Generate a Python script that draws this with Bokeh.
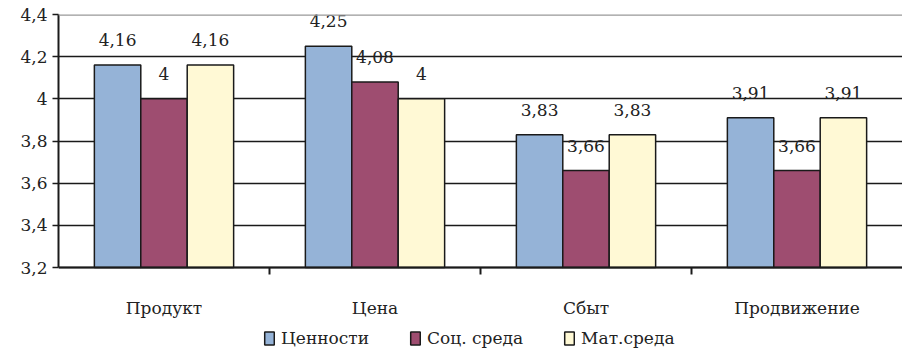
from bokeh.plotting import figure
from bokeh.models import ColumnDataSource, FixedTicker, Span, Legend, LegendItem
from bokeh.transform import dodge
from bokeh.core.properties import value
from bokeh.embed import file_html
from bokeh.resources import INLINE

# Marketing-mix scores by value source
categories = ["Продукт", "Цена", "Сбыт", "Продвижение"]
series_names = ["Ценности", "Соц. среда", "Мат.среда"]
values_cennosti = [4.16, 4.25, 3.83, 3.91]
values_soc = [4.0, 4.08, 3.66, 3.66]
values_mat = [4.16, 4.0, 3.83, 3.91]
y_ticks = [3.2, 3.4, 3.6, 3.8, 4.0, 4.2, 4.4]
y_tick_labels = ["3,2", "3,4", "3,6", "3,8", "4", "4,2", "4,4"]

colors = ["#95B3D7", "#9E4D70", "#FFF9D5"]
FONT = "DejaVu Serif"
FS = "17px"
INK = "#1a1a1a"

W, H = 902, 349
TOP, LEFT = 14, 58
AXIS_PX = 253          # pixel height of the value scale (3.2 .. 4.4)
y_lo, y_hi = y_ticks[0], y_ticks[-1]
px_unit = (y_hi - y_lo) / AXIS_PX
# the frame runs to the bottom edge so category labels and legend live inside it
y_bottom = y_hi - (H - TOP) * px_unit


def fmt(v):
    return f"{v:g}".replace(".", ",")


n = len(categories)
x_idx = [i + 0.5 for i in range(n)]
src = ColumnDataSource(dict(
    x=x_idx, cat=categories,
    a=values_cennosti, b=values_soc, c=values_mat,
    la=[fmt(v) for v in values_cennosti],
    lb=[fmt(v) for v in values_soc],
    lc=[fmt(v) for v in values_mat],
))

p = figure(width=W, height=H, output_backend="svg", toolbar_location=None,
           x_range=(0, n), y_range=(y_bottom, y_hi), x_axis_location=None,
           min_border_left=LEFT, min_border_right=0, min_border_top=TOP,
           min_border_bottom=0)
p.outline_line_color = None
p.background_fill_color = "white"
p.border_fill_color = "white"

# grid
p.xgrid.grid_line_color = None
p.ygrid.grid_line_color = INK
p.ygrid.grid_line_width = 1.5
p.ygrid.ticker = FixedTicker(ticks=y_ticks[:-1])
p.add_layout(Span(location=y_hi, dimension="width", line_color="#999999", line_width=2.5))

# y axis
p.yaxis.bounds = (y_lo, y_hi)
p.yaxis.ticker = FixedTicker(ticks=y_ticks)
p.yaxis.major_label_overrides = {t: l for t, l in zip(y_ticks, y_tick_labels)}
p.yaxis.major_label_text_font = FONT
p.yaxis.major_label_text_font_size = FS
p.yaxis.major_label_text_color = "#222222"
p.yaxis.axis_line_color = INK
p.yaxis.axis_line_width = 2
p.yaxis.major_tick_line_color = INK
p.yaxis.major_tick_line_width = 1.5
p.yaxis.major_tick_out = 6
p.yaxis.major_tick_in = 0
p.yaxis.minor_tick_line_color = None
p.yaxis.major_label_standoff = 5

# category axis: base line, separators between groups, labels under group centres
p.add_layout(Span(location=y_lo, dimension="width", line_color=INK, line_width=2))
sep = list(range(1, n))
p.segment(x0=sep, x1=sep, y0=y_lo, y1=y_lo - 7 * px_unit, line_color=INK, line_width=2)
p.text(x="x", y=y_lo, text="cat", source=src, y_offset=40,
       text_align="center", text_baseline="middle",
       text_font=value(FONT), text_font_size=FS, text_color="#222222")

bw = 0.22
renderers = []
for col, lab, off, color in zip(["a", "b", "c"], ["la", "lb", "lc"], [-bw, 0, bw], colors):
    r = p.vbar(x=dodge("x", off, range=p.x_range), top=col, bottom=y_lo, width=bw,
               source=src, fill_color=color, line_color=INK, line_width=1.5)
    renderers.append(r)
    p.text(x=dodge("x", off, range=p.x_range), y=col, text=lab, source=src,
           text_align="center", text_baseline="middle", y_offset=-25,
           text_font=value(FONT), text_font_size=FS, text_color="#222222")

# legend row along the bottom edge
legend = Legend(items=[LegendItem(label=nm, renderers=[r]) for nm, r in zip(series_names, renderers)],
                orientation="horizontal", location=(205, 1),
                label_text_font=FONT, label_text_font_size=FS, label_text_color="#222222",
                glyph_width=12, glyph_height=16, spacing=40, label_standoff=6,
                label_height=16, padding=0, margin=0, border_line_color=None,
                background_fill_alpha=0)
p.add_layout(legend, "center")

open("out.html", "w").write(file_html(p, INLINE))
